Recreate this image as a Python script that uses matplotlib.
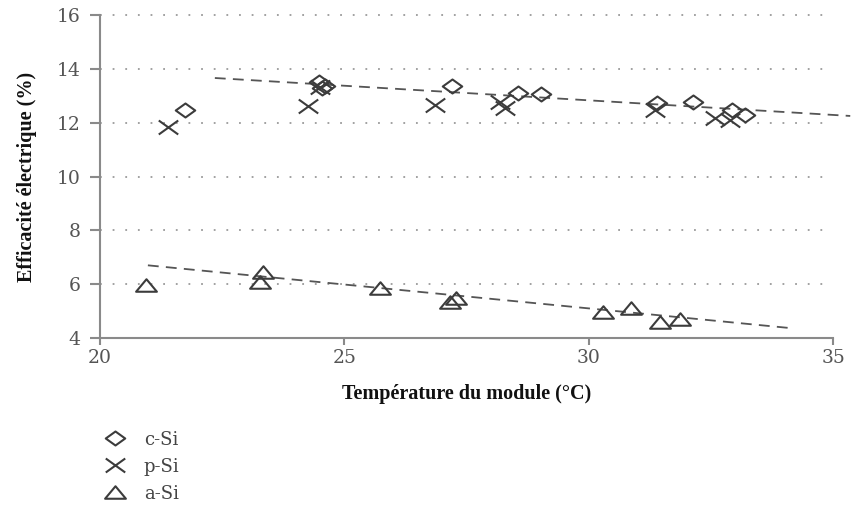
import matplotlib
matplotlib.use('Agg')
import matplotlib.pyplot as plt
from matplotlib.path import Path

# données
csi_temp = [21.74, 24.48, 24.54, 24.6, 27.2, 28.55, 29.02, 31.39, 32.13, 32.94, 33.2]
csi_eff = [12.47, 13.51, 13.29, 13.35, 13.36, 13.10, 13.06, 12.73, 12.77, 12.47, 12.28]

psi_temp = [21.39, 24.25, 24.5, 26.85, 28.18, 28.28, 31.35, 32.58, 32.88]
psi_eff = [11.84, 12.62, 13.32, 12.65, 12.77, 12.55, 12.47, 12.17, 12.10]

asi_temp = [20.94, 23.33, 23.27, 25.73, 27.16, 27.28, 30.30, 30.86, 31.45, 31.86]
asi_eff = [5.96, 6.45, 6.07, 5.85, 5.33, 5.48, 4.96, 5.11, 4.59, 4.70]

# droites de tendance
csi_trend_x = [22.35, 35.35]
csi_trend_y = [13.66, 12.25]
asi_trend_x = [20.98, 34.17]
asi_trend_y = [6.70, 4.36]

y_ticks = [4, 6, 8, 10, 12, 14, 16]
x_ticks = [20, 25, 30, 35]

# marqueurs un peu aplatis comme sur l'original
diamond = Path([(-1, 0), (0, 0.72), (1, 0), (0, -0.72), (-1, 0)],
               [Path.MOVETO, Path.LINETO, Path.LINETO, Path.LINETO, Path.CLOSEPOLY])
cross = Path([(-1, -0.72), (1, 0.72), (-1, 0.72), (1, -0.72)],
             [Path.MOVETO, Path.LINETO, Path.MOVETO, Path.LINETO])
triangle = Path([(-1, -0.6), (0, 0.6), (1, -0.6), (-1, -0.6)],
                [Path.MOVETO, Path.LINETO, Path.LINETO, Path.CLOSEPOLY])

mk_color = '#3c3c3c'
axis_color = '#8a8a8a'
serif = ['Liberation Serif', 'DejaVu Serif']
wide_serif = ['DejaVu Serif']

fig = plt.figure(figsize=(8.51, 5.18), dpi=100)
ax = fig.add_axes([0.1175, 0.3475, 0.8615, 0.6235])

ax.plot(csi_trend_x, csi_trend_y, linestyle=(0, (6, 4)), color='#555555',
        linewidth=1.3, clip_on=False)
ax.plot(asi_trend_x, asi_trend_y, linestyle=(0, (6, 4)), color='#555555',
        linewidth=1.3, clip_on=False)

ax.plot(csi_temp, csi_eff, linestyle='none', marker=diamond, markersize=14,
        markerfacecolor='none', markeredgecolor=mk_color, markeredgewidth=1.5,
        label='c-Si', clip_on=False)
ax.plot(psi_temp, psi_eff, linestyle='none', marker=cross, markersize=14,
        markeredgecolor=mk_color, markeredgewidth=1.5, label='p-Si', clip_on=False)
ax.plot(asi_temp, asi_eff, linestyle='none', marker=triangle, markersize=15,
        markerfacecolor='none', markeredgecolor=mk_color, markeredgewidth=1.5,
        label='a-Si', clip_on=False)

ax.set_xlim(20, 35)
ax.set_ylim(4, 16)
ax.set_xticks(x_ticks)
ax.set_yticks(y_ticks)

# grille en pointillés (pas sur l'axe du bas)
for yv in y_ticks[1:]:
    ax.axhline(yv, xmax=0.99, color='#9a9a9a', linestyle=(0, (1, 6)),
               linewidth=1.3, zorder=0, clip_on=False)

for side in ['top', 'right']:
    ax.spines[side].set_visible(False)
for side in ['left', 'bottom']:
    ax.spines[side].set_color(axis_color)
    ax.spines[side].set_linewidth(1.5)

ax.tick_params(axis='both', colors=axis_color, width=1.5,
               labelsize=13.5, labelcolor='#555555')
ax.tick_params(axis='y', length=7, pad=7)
ax.tick_params(axis='x', length=5, pad=3)
for lbl in ax.get_xticklabels() + ax.get_yticklabels():
    lbl.set_family(wide_serif)

ax.set_xlabel('Température du module (°C)', family=serif, fontsize=14.5,
              fontweight='bold', color='#111111', labelpad=12)
ax.set_ylabel('Efficacité électrique (%)', family=serif, fontsize=14.5,
              fontweight='bold', color='#111111', labelpad=14)

leg = fig.legend(loc='upper left', bbox_to_anchor=(0.103, 0.2), frameon=False,
                 handlelength=1.2, handletextpad=1.0, labelspacing=0.5,
                 prop={'family': wide_serif, 'size': 13})
for t in leg.get_texts():
    t.set_color('#444444')

fig.savefig('out.png', dpi=100)
